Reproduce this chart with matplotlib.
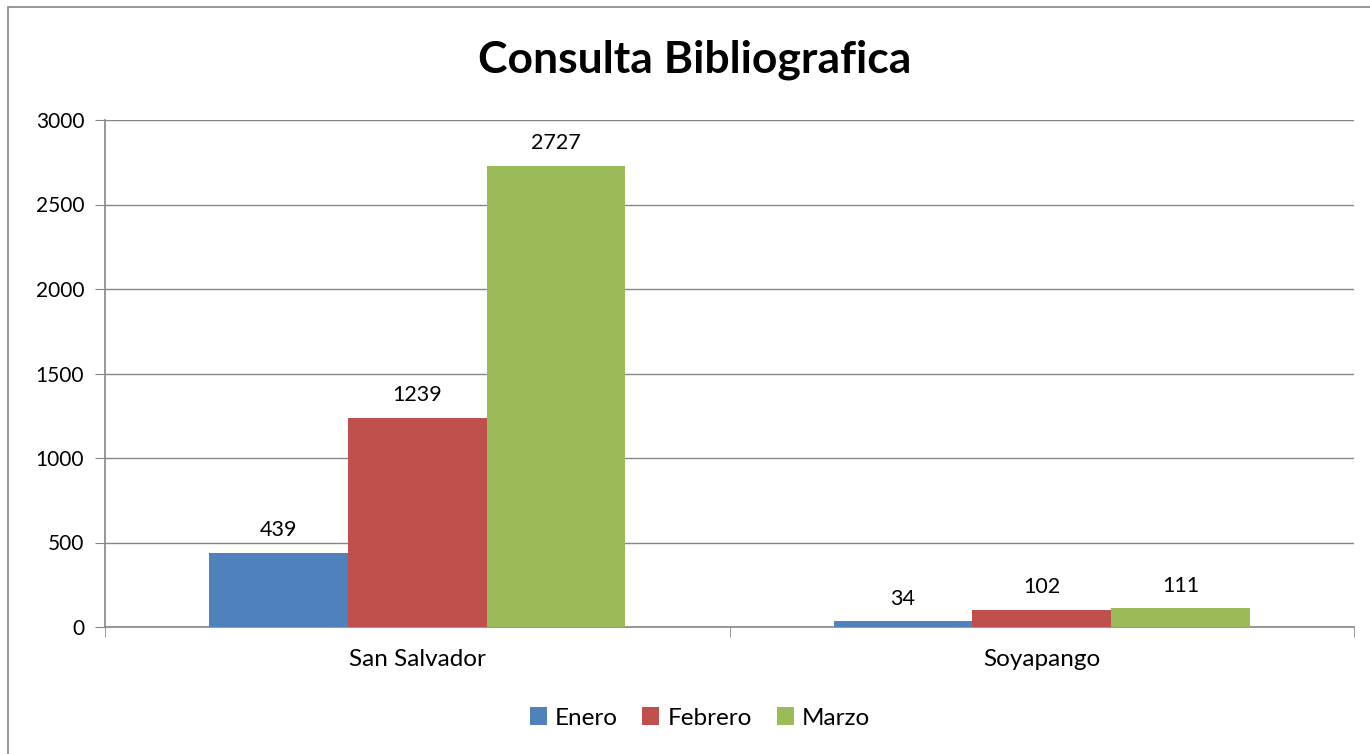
import matplotlib.pyplot as plt
import matplotlib.patches as patches
import numpy as np

categories = ['San Salvador', 'Soyapango']
series_names = ['Enero', 'Febrero', 'Marzo']
enero = [439, 34]
febrero = [1239, 102]
marzo = [2727, 111]
y_ticks = [0, 500, 1000, 1500, 2000, 2500, 3000]

colors = ['#4F81BD', '#C0504D', '#9BBB59']
plt.rcParams['font.family'] = ['Lato', 'DejaVu Sans']

W, H = 1370, 754
fig = plt.figure(figsize=(W / 100, H / 100), dpi=100)

# chart area border (right/bottom edges fall outside the image)
fig.patches.append(patches.Rectangle((8 / W, -0.05), 2, 1.05 - 7 / H, transform=fig.transFigure,
                                     fill=False, edgecolor='#868686', linewidth=1.2))

ax = fig.add_axes([105 / W, 127 / H, (1354 - 105) / W, (627 - 120) / H])

bw = 1 / 4.5
x = np.arange(len(categories))
for i, (name, vals) in enumerate(zip(series_names, [enero, febrero, marzo])):
    pos = x + (i - 1) * bw
    ax.bar(pos, vals, width=bw, color=colors[i], label=name, zorder=3)
    for px, v in zip(pos, vals):
        ax.text(px, v + 75, str(v), ha='center', va='bottom', fontsize=15.5, color='black')

ax.set_xlim(-0.5, 1.5)
ax.set_ylim(0, 3000)
ax.set_yticks(y_ticks)
ax.tick_params(axis='y', labelsize=15, length=7, color='#868686', pad=8)
ax.set_xticks(x)
ax.set_xticklabels(categories, fontsize=17.5)
ax.tick_params(axis='x', length=0, pad=16)
ax.set_xticks([-0.5, 0.5, 1.5], minor=True)
ax.tick_params(axis='x', which='minor', length=7, color='#868686')
ax.yaxis.grid(True, color='#868686', linewidth=1)
ax.set_axisbelow(True)
for s in ['top', 'right']:
    ax.spines[s].set_visible(False)
for s in ['left', 'bottom']:
    ax.spines[s].set_color('#868686')
    ax.spines[s].set_linewidth(1.2)

fig.text(695 / W, 1 - 60 / H, 'Consulta Bibliografica', ha='center', va='center',
         fontsize=32, fontweight='bold')

ax.legend(loc='center', bbox_to_anchor=((700 - 105) / 1249, (627 - 718) / (627 - 120)), ncol=3,
          frameon=False, fontsize=17.5, handlelength=0.7, handleheight=0.7,
          handletextpad=0.35, columnspacing=1.0)

fig.savefig('out.png', dpi=100)
